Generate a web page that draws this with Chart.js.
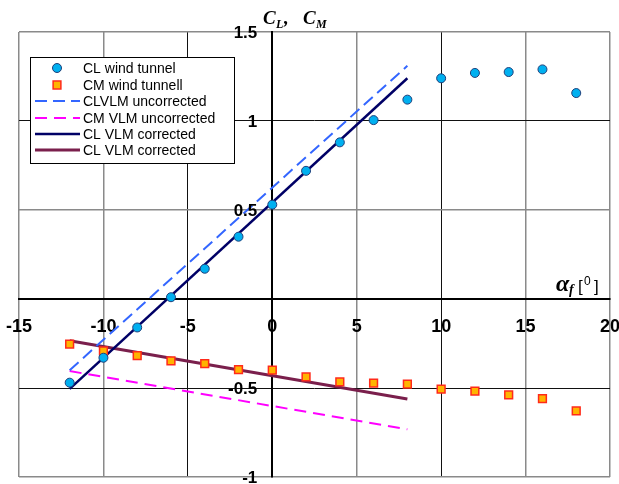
<!DOCTYPE html>
<html>
<head>
<meta charset="utf-8">
<script src="https://cdn.jsdelivr.net/npm/chart.js@4/dist/chart.umd.min.js"></script>
<style>
  html, body { margin: 0; padding: 0; background: #fff; }
  #wrap { width: 619px; height: 484px; }
</style>
</head>
<body>
<div id="wrap"><canvas id="chart-area" width="619" height="484"></canvas></div>
<script>
// wind tunnel measurements
var alphaTunnel = [-12, -10, -8, -6, -4, -2, 0, 2, 4, 6, 8, 10, 12, 14, 16, 18];
var clTunnel = [-0.47, -0.33, -0.16, 0.01, 0.17, 0.35, 0.53, 0.72, 0.88, 1.005, 1.12, 1.24, 1.27, 1.275, 1.29, 1.157];
var cmTunnel = [-0.253, -0.292, -0.318, -0.347, -0.363, -0.397, -0.40, -0.438, -0.466, -0.472, -0.478, -0.506, -0.517, -0.539, -0.56, -0.629];

// VLM results (straight lines, end points)
var alphaVlm = [-12, 8];
var clVlmUncorr = [-0.40, 1.31];
var cmVlmUncorr = [-0.405, -0.732];
var clVlmCorr = [-0.505, 1.24];
var cmVlmCorr = [-0.234, -0.562];

var xTicks = [-15, -10, -5, 0, 5, 10, 15, 20];
var yTicks = [-1, -0.5, 0, 0.5, 1, 1.5];

var labels = ['CL wind tunnel', 'CM wind tunnell', 'CLVLM uncorrected', 'CM VLM uncorrected', 'CL VLM corrected', 'CL VLM corrected'];

function pts(xs, ys) {
  return xs.map(function (x, i) { return { x: x, y: ys[i] }; });
}

var config = {
  type: 'scatter',
  data: {
    datasets: [
      {
        label: labels[0],
        data: pts(alphaTunnel, clTunnel),
        pointStyle: 'circle',
        pointRadius: 4.5,
        backgroundColor: '#00b0f0',
        borderColor: '#1f3f7a',
        borderWidth: 1,
        order: 1
      },
      {
        label: labels[1],
        data: pts(alphaTunnel, cmTunnel),
        pointStyle: 'rect',
        pointRadius: 5.5,
        backgroundColor: '#ffb400',
        borderColor: '#ff2a1a',
        borderWidth: 1.5,
        order: 1
      },
      {
        label: labels[2],
        data: pts(alphaVlm, clVlmUncorr),
        showLine: true,
        pointRadius: 0,
        borderColor: '#3366ff',
        borderWidth: 2,
        borderDash: [12, 6],
        order: 2
      },
      {
        label: labels[3],
        data: pts(alphaVlm, cmVlmUncorr),
        showLine: true,
        pointRadius: 0,
        borderColor: '#ff00ff',
        borderWidth: 2,
        borderDash: [12, 7],
        order: 2
      },
      {
        label: labels[4],
        data: pts(alphaVlm, clVlmCorr),
        showLine: true,
        pointRadius: 0,
        borderColor: '#000066',
        borderWidth: 2.5,
        order: 2
      },
      {
        label: labels[5],
        data: pts(alphaVlm, cmVlmCorr),
        showLine: true,
        pointRadius: 0,
        borderColor: '#7a1f4c',
        borderWidth: 3,
        order: 2
      }
    ]
  },
  options: {
    responsive: false,
    animation: false,
    layout: { padding: { left: 19, right: 9, top: 32, bottom: 7 } },
    plugins: {
      legend: { display: false },
      tooltip: { enabled: false }
    },
    scales: {
      x: {
        type: 'linear',
        position: { y: 0 },
        min: -15,
        max: 20,
        afterBuildTicks: function (s) { s.ticks = xTicks.map(function (v) { return { value: v }; }); },
        afterFit: function (s) { s.height = 0; s.paddingLeft = 0; s.paddingRight = 0; },
        grid: {
          drawTicks: false,
          color: function (c) {
            var v = c.tick && c.tick.value;
            return (v === -5 || v === 0 || v === 10) ? '#111' : '#8a8a8a';
          },
          lineWidth: function (c) {
            var v = c.tick && c.tick.value;
            return (v === -5 || v === 0 || v === 10) ? 1 : 1.5;
          }
        },
        border: { color: '#000', width: 2 },
        ticks: {
          autoSkip: false,
          maxRotation: 0,
          padding: 17,
          color: '#000',
          font: { family: 'Liberation Sans, Arial', size: 18, weight: 'bold' },
          callback: function (v) { return String(v); }
        }
      },
      y: {
        type: 'linear',
        position: { x: 0 },
        min: -1,
        max: 1.5,
        afterBuildTicks: function (s) { s.ticks = yTicks.map(function (v) { return { value: v }; }); },
        afterFit: function (s) { s.width = 0; s.paddingTop = 0; s.paddingBottom = 0; },
        grid: {
          drawTicks: false,
          color: function (c) {
            var v = c.tick && c.tick.value;
            return (v === 1 || v === 0 || v === -0.5) ? '#111' : '#8a8a8a';
          },
          lineWidth: function (c) {
            var v = c.tick && c.tick.value;
            return (v === 1 || v === 0 || v === -0.5) ? 1 : 1.5;
          }
        },
        border: { color: '#000', width: 2 },
        ticks: { display: false }
      }
    }
  },
  plugins: [{
    id: 'extras',
    afterDraw: function (chart) {
      var ctx = chart.ctx;
      var ds = chart.data.datasets;
      var xs = chart.scales.x, ys = chart.scales.y;
      ctx.save();

      // y tick labels, left of the y axis
      var x0 = xs.getPixelForValue(0);
      ctx.fillStyle = '#000';
      ctx.font = 'bold 17px "Liberation Sans", Arial';
      ctx.textAlign = 'right';
      ctx.textBaseline = 'middle';
      yTicks.forEach(function (v) {
        if (v === 0) return;
        ctx.fillText(String(v), x0 - 15, ys.getPixelForValue(v) + 1);
      });
      ctx.textAlign = 'left';

      // legend box
      var bx = 30, by = 57, bw = 204, bh = 106;
      ctx.fillStyle = '#fff';
      ctx.fillRect(bx, by, bw, bh);
      ctx.strokeStyle = '#000';
      ctx.lineWidth = 1;
      ctx.strokeRect(bx + 0.5, by + 0.5, bw, bh);

      var rowY = [68, 85, 101, 118, 134, 150];
      ctx.font = '14px "Liberation Sans", Arial';
      ctx.textBaseline = 'middle';
      ds.forEach(function (d, i) {
        var y = rowY[i];
        if (d.showLine) {
          ctx.beginPath();
          ctx.setLineDash(d.borderDash || []);
          ctx.strokeStyle = d.borderColor;
          ctx.lineWidth = d.borderWidth;
          ctx.moveTo(35, y);
          ctx.lineTo(80, y);
          ctx.stroke();
          ctx.setLineDash([]);
        } else {
          ctx.fillStyle = d.backgroundColor;
          ctx.strokeStyle = d.borderColor;
          ctx.lineWidth = d.borderWidth;
          ctx.beginPath();
          if (d.pointStyle === 'circle') {
            ctx.arc(57, y, d.pointRadius, 0, Math.PI * 2);
          } else {
            var h = d.pointRadius * Math.SQRT1_2;
            ctx.rect(57 - h, y - h, 2 * h, 2 * h);
          }
          ctx.fill();
          ctx.stroke();
        }
        ctx.fillStyle = '#000';
        ctx.fillText(d.label, 83, y + 1);
      });

      // axis titles
      ctx.fillStyle = '#000';
      ctx.textBaseline = 'alphabetic';
      ctx.font = 'italic bold 19px "Liberation Serif", "Times New Roman"';
      ctx.fillText('C', 263, 24);
      ctx.font = 'italic bold 12px "Liberation Serif", "Times New Roman"';
      ctx.fillText('L', 276, 28);
      ctx.font = 'italic bold 19px "Liberation Serif", "Times New Roman"';
      ctx.fillText(',', 284, 24);
      ctx.fillText('C', 303, 24);
      ctx.font = 'italic bold 12px "Liberation Serif", "Times New Roman"';
      ctx.fillText('M', 316, 28);

      ctx.font = 'italic bold 24px "Liberation Serif", "Times New Roman"';
      ctx.fillText('\u03b1', 556, 291);
      ctx.font = 'italic bold 14px "Liberation Serif", "Times New Roman"';
      ctx.fillText('f', 569, 294);
      ctx.font = '17px "Liberation Sans", Arial';
      ctx.fillText('[', 578, 292);
      ctx.fillText(']', 594, 292);
      ctx.font = '12px "Liberation Sans", Arial';
      ctx.fillText('0', 584, 285);

      ctx.restore();
    }
  }]
};

window.onload = function () {
  var ctx = document.getElementById('chart-area').getContext('2d');
  window.myChart = new Chart(ctx, config);
};
</script>
</body>
</html>
